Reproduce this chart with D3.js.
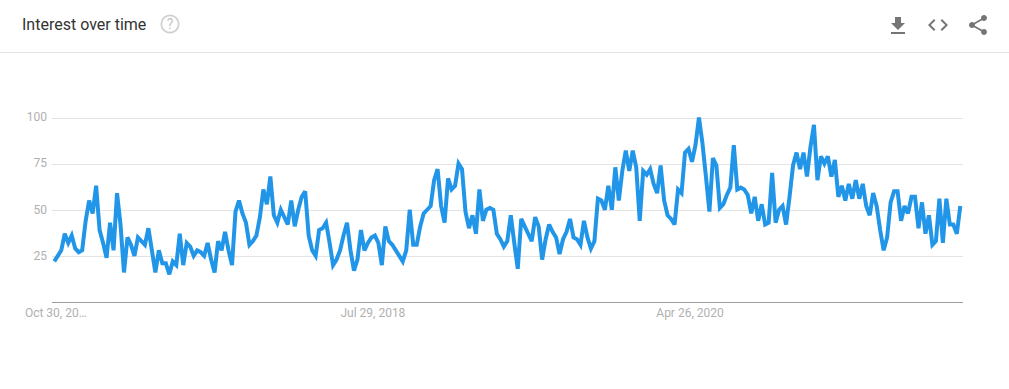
<!DOCTYPE html>
<html>
<head>
<meta charset="utf-8">
<script src="https://cdnjs.cloudflare.com/ajax/libs/d3/7.8.5/d3.min.js"></script>
<style>
  html, body { margin: 0; padding: 0; background: #fff; }
  svg { display: block; font-family: Roboto, sans-serif; }
  .line { fill: none; stroke: #2196e8; stroke-width: 4px; stroke-linejoin: miter; stroke-miterlimit: 3; }
  .grid line { stroke: #e3e3e3; }
  .axis text { fill: #b0b0b0; font-size: 12px; font-family: Roboto, sans-serif; }
  .axis path, .axis line { display: none; }
  .icon { fill: #757575; }
</style>
</head>
<body>
<script>
const title = 'Interest over time';
const startDate = new Date(2016, 9, 30);
const interest = [
  22,25,28,37,32,36,29,27,28,44,
  55,48,63,39,32,24,43,28,59,42,
  16,35,31,25,35,33,31,40,28,16,
  28,21,21,15,22,20,37,20,32,30,
  25,28,27,25,32,23,16,33,28,38,
  28,20,49,55,48,43,31,33,36,46,
  61,53,68,47,43,50,46,42,55,41,
  50,57,60,36,28,25,39,40,43,32,
  20,23,28,36,43,28,17,23,39,28,
  32,35,36,32,20,41,33,31,28,25,
  22,28,50,31,31,41,48,50,52,66,
  72,52,43,67,61,63,75,72,49,40,
  47,37,61,44,50,51,50,37,34,30,
  33,47,32,18,45,41,37,33,46,41,
  23,34,42,38,35,26,34,38,45,35,
  34,31,44,35,29,33,56,55,50,63,
  50,73,55,71,82,71,82,73,44,71,
  69,72,64,59,74,55,47,45,42,61,
  59,81,83,76,85,100,86,68,49,78,
  74,51,53,58,62,85,61,62,61,58,
  48,57,44,53,42,43,70,43,50,52,
  42,57,74,81,72,81,68,84,96,66,
  79,75,79,68,77,57,63,55,64,56,
  66,56,64,52,47,59,52,39,28,35,
  54,60,60,44,52,48,57,57,40,54,
  37,47,31,33,56,32,56,42,42,37,
  52
];
const yTicks = [25, 50, 75, 100];
const xTickDates = [new Date(2016, 9, 30), new Date(2018, 6, 29), new Date(2020, 3, 26)];
const xTickLabels = ['Oct 30, 20…', 'Jul 29, 2018', 'Apr 26, 2020'];

const config = { width: 1009, height: 389, left: 52, right: 963, lineLeft: 54.3, lineRight: 960.3, top: 117.5, bottom: 302 };

const dates = interest.map((d, i) => d3.timeWeek.offset(startDate, i));

const x = d3.scaleTime().domain(d3.extent(dates)).range([config.lineLeft, config.lineRight]);
const y = d3.scaleLinear().domain([0, 100]).range([config.bottom, config.top]);

const svg = d3.select('body').append('svg')
  .attr('width', config.width)
  .attr('height', config.height);

// header
svg.append('text')
  .attr('x', 22).attr('y', 30)
  .attr('font-size', 16).attr('fill', '#333')
  .text(title);

svg.append('line')
  .attr('x1', 0).attr('x2', config.width)
  .attr('y1', 52.5).attr('y2', 52.5)
  .attr('stroke', '#e2e2e2');

svg.append('circle')
  .attr('cx', 170).attr('cy', 24).attr('r', 8.7)
  .attr('fill', 'none').attr('stroke', '#cfcfcf').attr('stroke-width', 1.7);
svg.append('text')
  .attr('x', 170).attr('y', 29).attr('text-anchor', 'middle')
  .attr('font-size', 14).attr('fill', '#c4c4c4')
  .text('?');

// toolbar icons
const iconDownload = 'M19 9h-4V3H9v6H5l7 7 7-7zM5 18v2h14v-2H5z';
const iconCode = 'M9.4 16.6L4.8 12l4.6-4.6L8 6l-6 6 6 6 1.4-1.4zm5.2 0l4.6-4.6-4.6-4.6L16 6l6 6-6 6-1.4-1.4z';
const iconShare = 'M18 16.08c-.76 0-1.44.3-1.96.77L8.91 12.7c.05-.23.09-.46.09-.7s-.04-.47-.09-.7l7.05-4.11c.54.5 1.25.81 2.04.81 1.66 0 3-1.34 3-3s-1.34-3-3-3-3 1.34-3 3c0 .24.04.47.09.7L8.04 9.81C7.5 9.31 6.79 9 6 9c-1.66 0-3 1.34-3 3s1.34 3 3 3c.79 0 1.5-.31 2.04-.81l7.12 4.16c-.05.21-.08.43-.08.65 0 1.61 1.31 2.92 2.92 2.92 1.61 0 2.92-1.31 2.92-2.92s-1.31-2.92-2.92-2.92z';
[[iconDownload, 886, 14], [iconCode, 926, 13], [iconShare, 966, 13]].forEach(([d, tx, ty]) => {
  svg.append('path').attr('class', 'icon').attr('d', d).attr('transform', `translate(${tx},${ty})`);
});

// gridlines
svg.append('g').attr('class', 'grid')
  .selectAll('line')
  .data(yTicks)
  .join('line')
  .attr('x1', config.left).attr('x2', config.right)
  .attr('y1', d => Math.round(y(d)) + 0.5).attr('y2', d => Math.round(y(d)) + 0.5);

// y axis
svg.append('g').attr('class', 'axis')
  .attr('transform', `translate(${config.left},-0.5)`)
  .call(d3.axisLeft(y).tickValues(yTicks).tickSize(0).tickPadding(5));

// x axis
svg.append('g').attr('class', 'axis')
  .attr('transform', `translate(1,${config.bottom})`)
  .call(d3.axisBottom(x).tickValues(xTickDates).tickSize(0).tickPadding(6)
    .tickFormat((d, i) => xTickLabels[i]));

// baseline
svg.append('line')
  .attr('x1', config.left).attr('x2', config.right)
  .attr('y1', config.bottom + 0.5).attr('y2', config.bottom + 0.5)
  .attr('stroke', '#9e9e9e');

const line = d3.line()
  .x((d, i) => x(dates[i]))
  .y(d => y(d));

svg.append('path')
  .datum(interest)
  .attr('class', 'line')
  .attr('d', line);
</script>
</body>
</html>
